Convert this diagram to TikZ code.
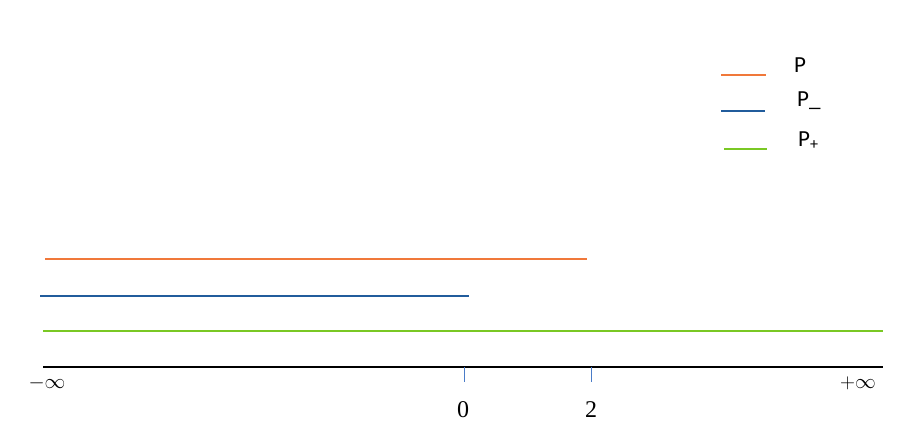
\documentclass[tikz,border=0pt]{standalone}
\usepackage{fontspec}
\setmainfont{Latin Modern Roman}
\newfontfamily\legfont{Carlito}
\newfontfamily\numfont{Liberation Serif}
\definecolor{porange}{HTML}{F0783A}
\definecolor{pblue}{HTML}{215C9C}
\definecolor{pgreen}{HTML}{7AC824}
\definecolor{ptick}{HTML}{4A7CC8}
\begin{document}
\begin{tikzpicture}[x=1pt,y=-1pt,
  seg/.style={line width=2.2pt},
  axislab/.style={font=\fontsize{21}{23}\selectfont, inner sep=0pt},
  numlab/.style={font=\numfont\fontsize{24}{26}\selectfont, inner sep=0pt},
  leglab/.style={font=\legfont\fontsize{23}{25}\selectfont, inner sep=0pt, anchor=base west}]
\useasboundingbox (0,0) rectangle (915,444);
% coordinates
\coordinate (o1) at (45,259); \coordinate (o2) at (587,259);
\coordinate (b1) at (40,296); \coordinate (b2) at (469,296);
\coordinate (g1) at (43,331); \coordinate (g2) at (883,331);
\coordinate (a1) at (43,367); \coordinate (a2) at (883,367);
\coordinate (t0) at (464,367); \coordinate (t0e) at (464,382);
\coordinate (t2) at (591,367); \coordinate (t2e) at (591,382);
\draw[seg, porange] (o1) -- (o2);
\draw[seg, pblue] (b1) -- (b2);
\draw[seg, pgreen] (g1) -- (g2);
\draw[line width=2.4pt, black] (a1) -- (a2);
\draw[ptick, line width=0.8pt] (t0) -- (t0e);
\draw[ptick, line width=0.8pt] (t2) -- (t2e);
\node[axislab] (minf) at (47,383) {$-\infty$};
\node[axislab] (pinf) at (858,383) {$+\infty$};
\node[numlab] (zero) at (463,410) {0};
\node[numlab] (two) at (591,410) {2};
% legend
\coordinate (l1a) at (721,75); \coordinate (l1b) at (766,75);
\coordinate (l2a) at (721,111); \coordinate (l2b) at (765,111);
\coordinate (l3a) at (724,149); \coordinate (l3b) at (767,149);
\draw[seg, porange] (l1a) -- (l1b);
\draw[seg, pblue] (l2a) -- (l2b);
\draw[seg, pgreen] (l3a) -- (l3b);
\node[leglab] (lp) at (794,73) {P};
\node[leglab] (lpm) at (797,106) {P\_};
\node[leglab] (lpp) at (798,146) {P\textsubscript{+}};
\end{tikzpicture}
\end{document}
